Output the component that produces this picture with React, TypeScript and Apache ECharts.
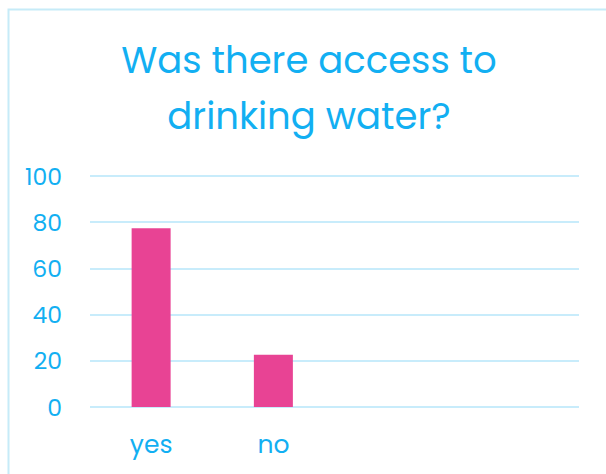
import React, { useEffect, useRef } from "react";
import * as echarts from "echarts";

const categories = ["yes", "no", "", ""];
const values = [77.4, 22.6, null, null];
const yTicks = { min: 0, max: 100, interval: 20 };
const titleText = "Was there access to\ndrinking water?";

const BLUE = "#12AFF2";
const FONT = "Poppins, 'Open Sans', 'Noto Sans', sans-serif";

export default function App() {
  const ref = useRef<HTMLDivElement>(null);
  useEffect(() => {
    if (!ref.current) return;
    const chart = echarts.init(ref.current, null, { renderer: "svg" });
    chart.setOption({
      animation: false,
      backgroundColor: "#ffffff",
      graphic: [
        {
          type: "rect",
          shape: { x: 8.5, y: 9.5, width: 700, height: 600 },
          style: { fill: "none", stroke: "#C6EBF8", lineWidth: 2 },
          silent: true,
          z: -1,
        },
        {
          type: "text",
          x: 309,
          y: 32,
          style: {
            text: titleText,
            fill: BLUE,
            font: `37px ${FONT}`,
            lineHeight: 56,
            align: "center",
            verticalAlign: "top",
          },
        },
      ],
      grid: { left: 90, right: 27, top: 176, bottom: 67, containLabel: false },
      xAxis: {
        type: "category",
        data: categories,
        axisLine: { show: false },
        axisTick: { show: false },
        axisLabel: { color: BLUE, fontSize: 25, fontFamily: FONT, margin: 25 },
        splitLine: { show: false },
      },
      yAxis: {
        type: "value",
        min: yTicks.min,
        max: yTicks.max,
        interval: yTicks.interval,
        axisLine: { show: false },
        axisTick: { show: false },
        axisLabel: { color: BLUE, fontSize: 23.5, fontFamily: FONT, margin: 28 },
        splitLine: { lineStyle: { color: "#C8ECFB", width: 2 } },
      },
      series: [
        {
          type: "bar",
          data: values,
          barWidth: 39,
          itemStyle: { color: "#E84394" },
        },
      ],
    });
    return () => chart.dispose();
  }, []);
  return (
    <div
      ref={ref}
      style={{ position: "fixed", left: 0, top: 0, width: 606, height: 474 }}
    />
  );
}
